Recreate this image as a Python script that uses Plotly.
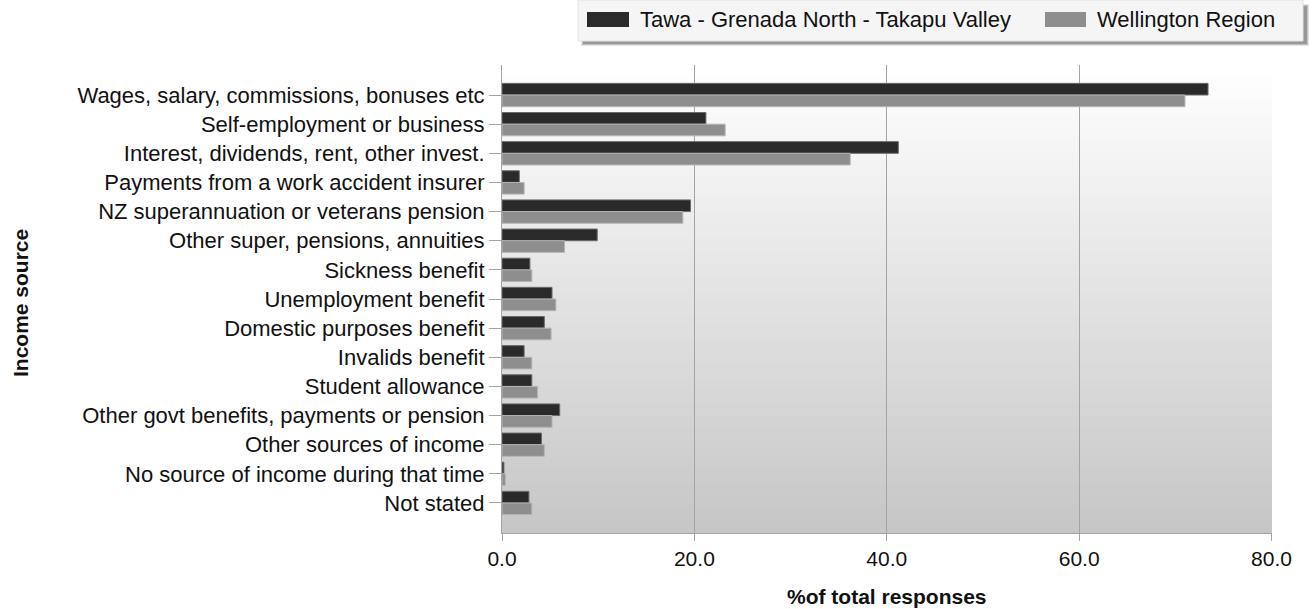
import plotly.graph_objects as go

categories = [
    "Wages, salary, commissions, bonuses etc",
    "Self-employment or business",
    "Interest, dividends, rent, other invest.",
    "Payments from a work accident insurer",
    "NZ superannuation or veterans pension",
    "Other super, pensions, annuities",
    "Sickness benefit",
    "Unemployment benefit",
    "Domestic purposes benefit",
    "Invalids benefit",
    "Student allowance",
    "Other govt benefits, payments or pension",
    "Other sources of income",
    "No source of income during that time",
    "Not stated",
]
series_names = ["Tawa - Grenada North - Takapu Valley", "Wellington Region"]
tawa = [73.4, 21.2, 41.2, 1.8, 19.6, 9.9, 2.9, 5.2, 4.4, 2.3, 3.1, 6.0, 4.1, 0.2, 2.8]
wellington = [71.0, 23.2, 36.2, 2.3, 18.8, 6.5, 3.1, 5.6, 5.1, 3.1, 3.7, 5.2, 4.4, 0.35, 3.1]
x_ticks = [0, 20, 40, 60, 80]

FONT = "Liberation Sans, Arial, sans-serif"
COLORS = ["#2a2a2a", "#8e8e8e"]
EDGES = ["#6a6a6a", "#b5b5b5"]

W, H = 1312, 609
L, R, T, B = 502, 40, 65, 76
PW, PH = W - L - R, H - T - B


def px(x):
    return (x - L) / PW


def py(y):
    return (H - B - y) / PH


fig = go.Figure()
for name, vals, c, e in zip(series_names, [tawa, wellington], COLORS, EDGES):
    fig.add_trace(go.Bar(
        y=categories, x=vals, orientation="h", name=name,
        marker=dict(color=c, line=dict(color=e, width=1)),
        showlegend=False,
    ))

shapes = []
# gradient background of the plot area (stacked, no seams)
n = 80
for i in range(n):
    t = (i + 0.5) / n
    v = int(round(255 - 57 * t))
    shapes.append(dict(
        type="rect", xref="x domain", yref="y domain",
        x0=0, x1=1, y0=0, y1=1 - i / n,
        fillcolor=f"rgb({v},{v},{v})", line=dict(width=0), layer="below",
    ))

# legend box with soft shadow
for k, a in enumerate([0.12, 0.18, 0.28]):
    shapes.append(dict(type="rect", xref="paper", yref="paper",
                       x0=px(581 + k), x1=px(1309 - k), y0=py(46 - k), y1=py(4 + k),
                       fillcolor=f"rgba(40,40,40,{a})", line=dict(width=0)))
shapes.append(dict(type="rect", xref="paper", yref="paper",
                   x0=px(578), x1=px(1303), y0=py(41), y1=py(0),
                   fillcolor="#f5f5f5", line=dict(color="#e2e2e2", width=1)))
legend_swatch_x = [(587, 629), (1045, 1086)]
legend_text_x = [638, 1095]
annotations = []
for (sx0, sx1), tx, c, name in zip(legend_swatch_x, legend_text_x, COLORS, series_names):
    shapes.append(dict(type="rect", xref="paper", yref="paper",
                       x0=px(sx0), x1=px(sx1), y0=py(27), y1=py(12),
                       fillcolor=c, line=dict(width=0)))
    annotations.append(dict(text=name, xref="paper", yref="paper",
                            x=px(tx), y=py(19.5), xanchor="left", yanchor="middle",
                            showarrow=False,
                            font=dict(size=22, family=FONT, color="#111111")))

annotations += [
    dict(text="<b>Income source</b>", xref="paper", yref="paper",
         x=px(20), y=py(303), textangle=-90, showarrow=False,
         xanchor="center", yanchor="middle",
         font=dict(size=21, family=FONT, color="#111111")),
    dict(text="<b>%of total responses</b>", xref="paper", yref="paper",
         x=px(887), y=py(596), showarrow=False, xanchor="center", yanchor="middle",
         font=dict(size=21, family=FONT, color="#111111")),
]

fig.update_layout(
    width=W, height=H,
    margin=dict(l=L, r=R, t=T, b=B, autoexpand=False),
    paper_bgcolor="white",
    plot_bgcolor="white",
    font=dict(family=FONT, size=22, color="#111111"),
    barmode="group", bargap=0.2, bargroupgap=0,
    shapes=shapes,
    annotations=annotations,
    showlegend=False,
    xaxis=dict(
        range=[0, 80.05], tickvals=x_ticks, tickformat=".1f",
        showgrid=True, gridcolor="#a4a4a4", gridwidth=1,
        showline=True, linecolor="#a4a4a4", linewidth=1,
        ticks="outside", ticklen=7, tickcolor="#a4a4a4",
        zeroline=False, tickfont=dict(size=21),
    ),
    yaxis=dict(
        categoryorder="array", categoryarray=categories,
        range=[15.03, -1.03],
        showgrid=False, showline=True, linecolor="#a4a4a4", linewidth=1,
        ticks="outside", ticklen=12, tickcolor="#a4a4a4",
        tickfont=dict(size=22), zeroline=False,
    ),
)

fig.write_html("out.html", config={"displayModeBar": False},
               post_script="document.body.style.margin='0';")
